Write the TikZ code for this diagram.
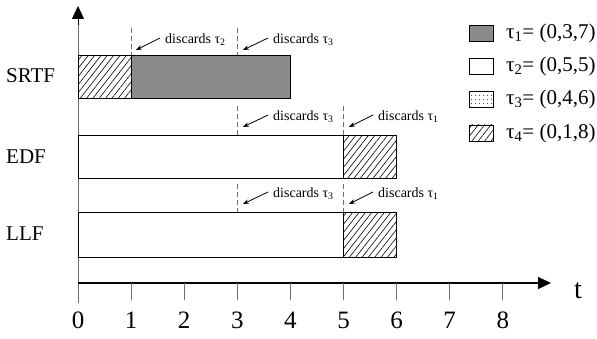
\documentclass[tikz,border=0pt]{standalone}
\usepackage{fontspec}
\setmainfont{Liberation Serif}
\usetikzlibrary{arrows.meta,patterns.meta}
\definecolor{bargray}{RGB}{138,138,138}
\definecolor{axgray}{RGB}{110,110,110}
\tikzset{
  barbox/.style={draw=black, line width=1pt},
  hatchfill/.style={pattern={Lines[angle=52,distance=5pt,line width=0.6pt]}},
  dotfill/.style={pattern={Dots[distance=4pt,radius=0.6pt]}},
  rowlab/.style={font=\fontsize{21}{23}\selectfont, anchor=west, inner sep=0pt},
  ticklab/.style={font=\fontsize{25}{27}\selectfont, inner sep=0pt},
  disc/.style={font=\fontsize{14}{16}\selectfont, anchor=west, inner sep=0pt},
  legtxt/.style={font=\fontsize{21}{23}\selectfont, anchor=west, inner sep=0pt},
  legbox/.style={draw=black, line width=0.8pt, minimum width=24pt, minimum height=16pt, inner sep=0pt},
  dline/.style={draw=axgray, line width=1pt, dash pattern=on 5pt off 3pt},
  discarrow/.style={line width=0.8pt, -{Stealth[length=6pt,width=4.5pt]}},
  tickline/.style={draw=axgray, line width=1pt},
}
\begin{document}
\begin{tikzpicture}[x=1pt,y=-1pt]
\useasboundingbox (0,0) rectangle (597,339);
% axes
\coordinate (o) at (78,303);
\coordinate (ytop) at (78,6);
\coordinate (xo) at (78,283);
\coordinate (xend) at (551,283);
\draw[draw=axgray, line width=1pt] (o) -- (78,18);
\draw[line width=1pt, -{Triangle[length=13pt,width=12pt]}] (78,25) -- (ytop);
\draw[line width=1.2pt, -{Triangle[length=13pt,width=12pt]}] (xo) -- (xend);
\node[font=\fontsize{28}{30}\selectfont, inner sep=0pt] (tlab) at (578,291) {t};
\foreach \k in {1,...,8} {
  \draw[tickline] (78+53.1*\k,283) -- (78+53.1*\k,300);
}
\foreach \k in {0,...,8} {
  \node[ticklab] (n\k) at (78+53.1*\k,320) {\k};
}
% row labels
\node[rowlab] (srtf) at (6,76) {SRTF};
\node[rowlab] (edf) at (6,157) {EDF};
\node[rowlab] (llf) at (6,234) {LLF};
% SRTF bar
\draw[barbox, hatchfill] (78,56) rectangle (131.1,99);
\draw[barbox, fill=bargray] (131.1,56) rectangle (290.4,99);
% EDF bar
\draw[barbox, fill=white] (78,136) rectangle (343.5,179);
\draw[barbox, hatchfill] (343.5,136) rectangle (396.6,179);
% LLF bar
\draw[barbox, fill=white] (78,213) rectangle (343.5,257);
\draw[barbox, hatchfill] (343.5,213) rectangle (396.6,257);
% SRTF annotations
\draw[dline] (131.1,28) -- (131.1,55);
\draw[dline] (237.3,28) -- (237.3,55);
\node[disc] (a1) at (165,40) {discards τ\textsubscript{2}};
\coordinate (a1t) at (136,50);
\draw[discarrow] (160,38) -- (a1t);
\node[disc] (a2) at (273,40) {discards τ\textsubscript{3}};
\coordinate (a2t) at (243,50);
\draw[discarrow] (268,38) -- (a2t);
% EDF annotations
\draw[dline] (237.3,106) -- (237.3,135);
\draw[dline] (343.5,106) -- (343.5,135);
\node[disc] (b1) at (273,117) {discards τ\textsubscript{3}};
\coordinate (b1t) at (243,127);
\draw[discarrow] (268,115) -- (b1t);
\node[disc] (b2) at (378,117) {discards τ\textsubscript{1}};
\coordinate (b2t) at (349,127);
\draw[discarrow] (373,115) -- (b2t);
% LLF annotations
\draw[dline] (237.3,184) -- (237.3,212);
\draw[dline] (343.5,184) -- (343.5,212);
\node[disc] (c1) at (273,194) {discards τ\textsubscript{3}};
\coordinate (c1t) at (243,204);
\draw[discarrow] (268,192) -- (c1t);
\node[disc] (c2) at (378,194) {discards τ\textsubscript{1}};
\coordinate (c2t) at (349,204);
\draw[discarrow] (373,192) -- (c2t);
% legend
\node[legbox, fill=bargray] (k1) at (481,33) {};
\node[legbox, fill=white] (k2) at (481,66) {};
\node[legbox, dotfill] (k3) at (481,99) {};
\node[legbox, hatchfill] (k4) at (481,133) {};
\node[legtxt] (t1) at (506,33) {τ\textsubscript{1}= (0,3,7)};
\node[legtxt] (t2) at (506,66) {τ\textsubscript{2}= (0,5,5)};
\node[legtxt] (t3) at (506,99) {τ\textsubscript{3}= (0,4,6)};
\node[legtxt] (t4) at (506,133) {τ\textsubscript{4}= (0,1,8)};
\end{tikzpicture}
\end{document}
